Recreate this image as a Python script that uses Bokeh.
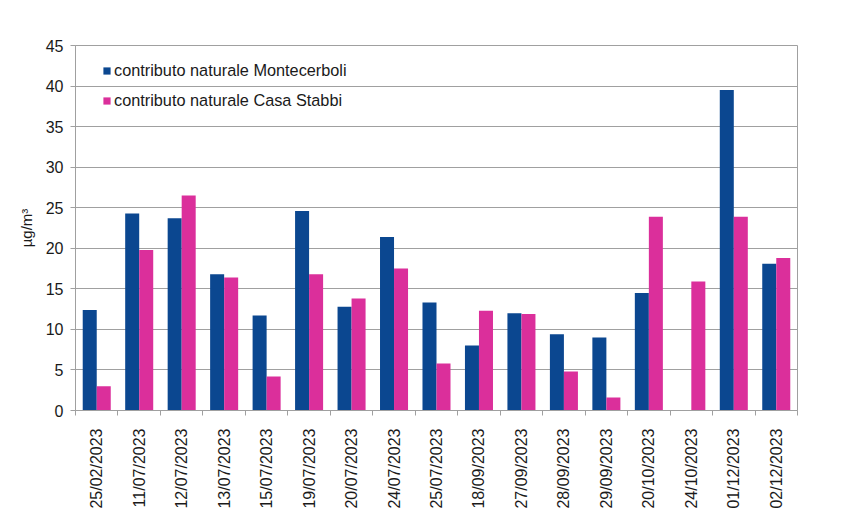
import math
from bokeh.plotting import figure
from bokeh.models import ColumnDataSource, Range1d, FixedTicker, Legend, LegendItem
from bokeh.transform import dodge
from bokeh.embed import file_html
from bokeh.resources import INLINE

dates = ["25/02/2023", "11/07/2023", "12/07/2023", "13/07/2023", "15/07/2023",
         "19/07/2023", "20/07/2023", "24/07/2023", "25/07/2023", "18/09/2023",
         "27/09/2023", "28/09/2023", "29/09/2023", "20/10/2023", "24/10/2023",
         "01/12/2023", "02/12/2023"]
montecerboli = [12.4, 24.3, 23.7, 16.8, 11.7, 24.6, 12.8, 21.4, 13.3, 8.0,
                12.0, 9.4, 9.0, 14.5, float("nan"), 39.5, 18.1]
casa_stabbi = [3.0, 19.8, 26.5, 16.4, 4.2, 16.8, 13.8, 17.5, 5.8, 12.3,
               11.9, 4.8, 1.6, 23.9, 15.9, 23.9, 18.8]
y_ticks = [0, 5, 10, 15, 20, 25, 30, 35, 40, 45]
series_names = ["contributo naturale Montecerboli", "contributo naturale Casa Stabbi"]
colors = ["#0B4790", "#DB2F9B"]

idx = list(range(len(dates)))
src = ColumnDataSource(dict(x=idx, m=montecerboli, c=casa_stabbi))

p = figure(width=842, height=519, output_backend="svg", toolbar_location=None,
           x_range=Range1d(-0.5, len(dates) - 0.5), y_range=Range1d(0, 45),
           min_border_left=75, min_border_right=45, min_border_top=45,
           min_border_bottom=109)

bw = 0.33
r1 = p.vbar(x=dodge("x", -bw / 2, range=p.x_range), top="m", width=bw, source=src,
            fill_color=colors[0], line_color=None)
r2 = p.vbar(x=dodge("x", bw / 2, range=p.x_range), top="c", width=bw, source=src,
            fill_color=colors[1], line_color=None)

grid_col = "#A0A0A0"
text_col = "#1A1A1A"
font = "Liberation Sans"

p.outline_line_color = grid_col
p.background_fill_color = "white"
p.border_fill_color = "white"

# x axis
xa = p.xaxis[0]
xa.ticker = FixedTicker(ticks=idx, minor_ticks=[i - 0.5 for i in range(len(dates) + 1)])
xa.major_label_overrides = {i: d for i, d in zip(idx, dates)}
xa.major_label_orientation = math.pi / 2
xa.major_tick_line_color = None
xa.minor_tick_line_color = grid_col
xa.minor_tick_out = 5
xa.minor_tick_in = 0
xa.axis_line_color = grid_col
xa.major_label_text_font = font
xa.major_label_text_font_size = "16px"
xa.major_label_text_color = text_col
xa.major_label_standoff = 12
p.xgrid.grid_line_color = None

# y axis
ya = p.yaxis[0]
ya.ticker = FixedTicker(ticks=y_ticks)
ya.axis_line_color = grid_col
ya.major_tick_line_color = grid_col
ya.major_tick_out = 5
ya.major_tick_in = 0
ya.minor_tick_line_color = None
ya.major_label_text_font = font
ya.major_label_text_font_size = "16px"
ya.major_label_text_color = text_col
ya.major_label_standoff = 7
ya.axis_label = "µg/m³"
ya.axis_label_text_font = font
ya.axis_label_text_font_style = "normal"
ya.axis_label_text_font_size = "15px"
ya.axis_label_text_color = text_col
ya.axis_label_standoff = 8
p.ygrid.grid_line_color = grid_col

legend = Legend(items=[LegendItem(label=series_names[0], renderers=[r1]),
                       LegendItem(label=series_names[1], renderers=[r2])],
                location=(27, 300))
legend.border_line_color = None
legend.background_fill_alpha = 0
legend.padding = 5
legend.margin = 0
legend.spacing = 11
legend.glyph_width = 9
legend.glyph_height = 9
legend.label_standoff = 3
legend.label_text_font = font
legend.label_text_font_size = "16.3px"
legend.label_text_color = text_col
p.add_layout(legend, "center")

open("out.html", "w").write(file_html(p, INLINE))
